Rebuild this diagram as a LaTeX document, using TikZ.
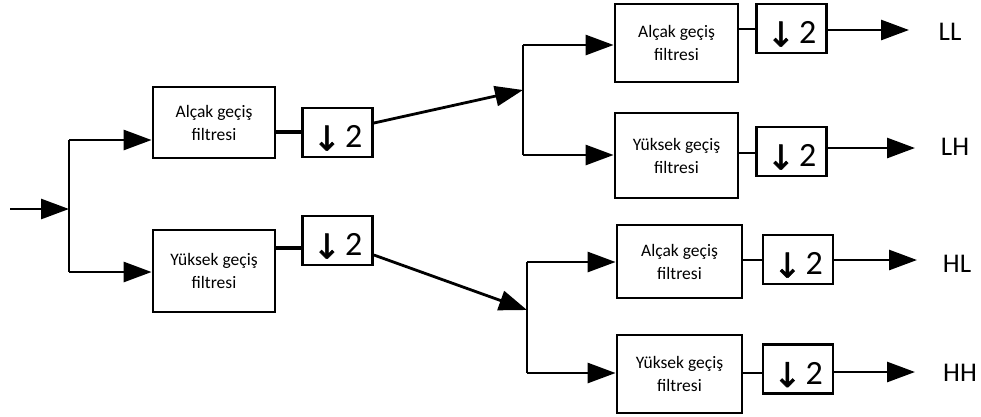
\documentclass[tikz,border=0pt]{standalone}
\usepackage{fontspec}
\setmainfont{Carlito}
\newfontfamily\arrowfont{DejaVu Sans}[FakeBold=1.5]
\usetikzlibrary{arrows.meta,calc}
% downsampling symbol, kept out of the node's height so the box stays fixed
\newcommand{\dsym}{\raisebox{-15pt}[0pt][0pt]{\raisebox{-3pt}{\arrowfont\fontsize{34}{34}\selectfont ↓}\hspace{4pt}2}}
\begin{document}
\begin{tikzpicture}[x=1pt,y=-1pt,
  wire/.style={line width=2.8pt},
  thinwire/.style={line width=2.4pt},
  arr/.style={wire,-{Triangle[length=28pt,width=20pt]}},
  filt/.style={draw,line width=2.8pt,align=center,font=\fontsize{17.5}{23}\selectfont,inner sep=0pt},
  down/.style={draw,line width=2.8pt,inner sep=0pt,minimum width=70pt,minimum height=49pt,
    font=\fontsize{34}{34}\selectfont},
  lbl/.style={font=\fontsize{27}{28}\selectfont,inner sep=0pt}]
\useasboundingbox (0,0) rectangle (981,416);

% first level
\node[filt,minimum width=122pt,minimum height=71pt] (f1) at (214,122.5) {Alçak geçiş\\filtresi};
\node[down] (d1) at (337.5,132.5) {\dsym};
\node[filt,minimum width=122pt,minimum height=82pt] (f2) at (214,271) {Yüksek geçiş\\filtresi};
\node[down] (d2) at (337.5,240.5) {\dsym};

% second level, low band
\node[filt,minimum width=123pt,minimum height=78pt] (f3) at (676.5,43) {Alçak geçiş\\filtresi};
\node[down] (d3) at (791.5,28.5) {\dsym};
\node[filt,minimum width=123pt,minimum height=85pt] (f4) at (676.5,155.5) {Yüksek geçiş\\filtresi};
\node[down] (d4) at (791.5,151.5) {\dsym};

% second level, high band
\node[filt,minimum width=125pt,minimum height=73pt] (f5) at (679.5,261.5) {Alçak geçiş\\filtresi};
\node[down] (d5) at (798,259.5) {\dsym};
\node[filt,minimum width=125pt,minimum height=78pt] (f6) at (679.5,374) {Yüksek geçiş\\filtresi};
\node[down] (d6) at (798,369) {\dsym};

% output labels
\node[lbl] (ll) at (950,32) {LL};
\node[lbl] (lh) at (955,147) {LH};
\node[lbl] (hl) at (957,264) {HL};
\node[lbl] (hh) at (960,373) {HH};

% branch points
\coordinate (in) at (10,209);
\coordinate (b1) at (69,209);
\coordinate (b2) at (523,90);
\coordinate (b3) at (527,310);

% input and first split
\draw[arr] (in) -- (b1);
\draw[wire] (69,140) -- (69,272);
\draw[arr] (69,140) -- (f1.west |- 0,140);
\draw[arr] (69,272) -- (f2.west |- 0,272);
\draw[wire,line width=3.4pt] (f1.east |- 0,132) -- (d1.west |- 0,132);
\draw[wire,line width=3.4pt] (f2.east |- 0,248) -- (d2.west |- 0,248);

% to the second level
\draw[arr] (d1.east |- 0,123) -- (b2);
\draw[arr] (d2.east |- 0,255) -- (b3);

% low band split
\draw[wire] (523,45) -- (523,155);
\draw[arr] (523,45) -- (f3.west |- 0,45);
\draw[arr] (523,155) -- (f4.west |- 0,155);
\draw[thinwire] (f3.east |- 0,29) -- (d3.west |- 0,29);
\draw[thinwire] (f4.east |- 0,153) -- (d4.west |- 0,153);
\draw[arr] (d3.east |- 0,30) -- (909,30);
\draw[arr] (d4.east |- 0,148) -- (915,148);

% high band split
\draw[wire] (527,262) -- (527,373);
\draw[arr] (527,262) -- (f5.west |- 0,262);
\draw[arr] (527,373) -- (f6.west |- 0,373);
\draw[thinwire] (f5.east |- 0,260) -- (d5.west |- 0,260);
\draw[thinwire] (f6.east |- 0,373) -- (d6.west |- 0,373);
\draw[arr] (d5.east |- 0,260) -- (917,260);
\draw[arr] (d6.east |- 0,372) -- (915,372);
\end{tikzpicture}
\end{document}
